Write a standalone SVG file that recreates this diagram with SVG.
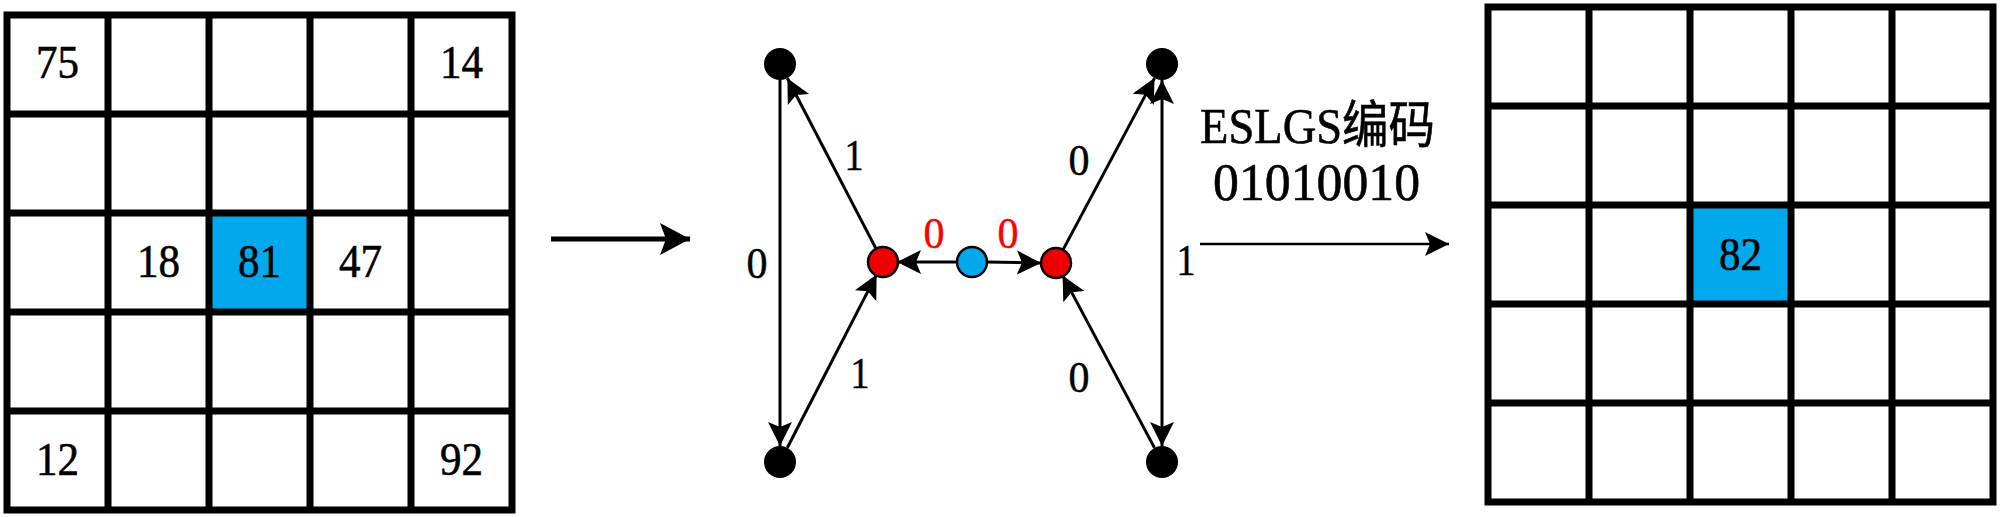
<svg xmlns="http://www.w3.org/2000/svg" width="2000" height="517" viewBox="0 0 2000 517">
  <style>
    .grid { fill: none; stroke: #000; stroke-width: 7; stroke-linecap: square; }
    .num { font-family: "Liberation Serif", "DejaVu Serif", serif; font-size: 47px; fill: #000; stroke: #000; stroke-width: 0.6; text-anchor: middle; }
    .lbl { font-family: "Liberation Serif", "DejaVu Serif", serif; font-size: 45px; fill: #000; stroke: #000; stroke-width: 0.5; text-anchor: middle; }
    .red { fill: #FF0000; stroke: #FF0000; }
    .edge { fill: none; stroke: #000; stroke-width: 3; }
    .cap { font-family: "Liberation Serif", "DejaVu Serif", "Noto Sans CJK SC", serif; fill: #000; stroke: #000; stroke-width: 0.6; text-anchor: middle; }
    .hl { fill: #00A8EC; }
  </style>
  <defs>
    <marker id="ah" viewBox="0 -13 25 26" refX="24" refY="0" markerWidth="25" markerHeight="26" markerUnits="userSpaceOnUse" orient="auto-start-reverse">
      <path d="M0,-12 L24,0 L0,12 L5,0 Z" fill="#000"/>
    </marker>
    <marker id="bigah" viewBox="0 -17 31 34" refX="30" refY="0" markerWidth="31" markerHeight="34" markerUnits="userSpaceOnUse" orient="auto">
      <path d="M0,-16 L30,0 L0,16 L6,0 Z" fill="#000"/>
    </marker>
  </defs>
  <rect width="2000" height="517" fill="#fff"/>

  <g id="input-grid">
    <rect class="hl" x="209" y="213" width="101" height="99"/>
    <path class="grid" d="M7,15 V510 M108,15 V510 M209,15 V510 M310,15 V510 M411,15 V510 M512,15 V510 M7,15 H512 M7,114 H512 M7,213 H512 M7,312 H512 M7,411 H512 M7,510 H512"/>
    <text class="num" x="57.5" y="78" textLength="43" lengthAdjust="spacingAndGlyphs">75</text>
    <text class="num" x="461.5" y="78" textLength="43" lengthAdjust="spacingAndGlyphs">14</text>
    <text class="num" x="158.5" y="277" textLength="43" lengthAdjust="spacingAndGlyphs">18</text>
    <text class="num" x="259.5" y="277" textLength="43" lengthAdjust="spacingAndGlyphs">81</text>
    <text class="num" x="360.5" y="277" textLength="43" lengthAdjust="spacingAndGlyphs">47</text>
    <text class="num" x="57.5" y="475" textLength="43" lengthAdjust="spacingAndGlyphs">12</text>
    <text class="num" x="461.5" y="475" textLength="43" lengthAdjust="spacingAndGlyphs">92</text>
  </g>

  <g id="output-grid">
    <rect class="hl" x="1690" y="205" width="101" height="99"/>
    <path class="grid" d="M1488,7 V502 M1589,7 V502 M1690,7 V502 M1791,7 V502 M1892,7 V502 M1993,7 V502 M1488,7 H1993 M1488,106 H1993 M1488,205 H1993 M1488,304 H1993 M1488,403 H1993 M1488,502 H1993"/>
    <text class="num" x="1740.5" y="270" textLength="43" lengthAdjust="spacingAndGlyphs">82</text>
  </g>

  <g id="connectors">
    <line x1="551" y1="239" x2="690" y2="239" stroke="#000" stroke-width="5" marker-end="url(#bigah)"/>
    <line class="edge" x1="780" y1="80" x2="780" y2="446" marker-end="url(#ah)"/>
    <line class="edge" x1="876.5" y1="249.6" x2="787.4" y2="78.2" marker-end="url(#ah)"/>
    <line class="edge" x1="787.3" y1="447.8" x2="876.6" y2="274.4" marker-end="url(#ah)"/>
    <line class="edge" x1="957" y1="262" x2="897" y2="262" marker-end="url(#ah)"/>
    <line class="edge" x1="987" y1="262" x2="1041" y2="263" marker-end="url(#ah)"/>
    <line class="edge" x1="1062.6" y1="250.6" x2="1154.5" y2="78.1" marker-end="url(#ah)"/>
    <line class="edge" x1="1154.5" y1="447.9" x2="1062.6" y2="275.4" marker-end="url(#ah)"/>
    <line class="edge" x1="1162" y1="80" x2="1162" y2="446" marker-start="url(#ah)" marker-end="url(#ah)"/>
    <line x1="1200" y1="244" x2="1449" y2="244" stroke="#000" stroke-width="2.5" marker-end="url(#ah)"/>
  </g>

  <g id="edge-labels">
    <text class="lbl" x="757" y="278" textLength="21" lengthAdjust="spacingAndGlyphs">0</text>
    <text class="lbl" x="854" y="170" textLength="19" lengthAdjust="spacingAndGlyphs">1</text>
    <text class="lbl" x="860" y="388" textLength="19" lengthAdjust="spacingAndGlyphs">1</text>
    <text class="lbl red" x="934" y="248" textLength="21" lengthAdjust="spacingAndGlyphs">0</text>
    <text class="lbl red" x="1008" y="248" textLength="21" lengthAdjust="spacingAndGlyphs">0</text>
    <text class="lbl" x="1079" y="175" textLength="21" lengthAdjust="spacingAndGlyphs">0</text>
    <text class="lbl" x="1079" y="392" textLength="21" lengthAdjust="spacingAndGlyphs">0</text>
    <text class="lbl" x="1186" y="275" textLength="19" lengthAdjust="spacingAndGlyphs">1</text>
  </g>

  <g id="node-tl"><circle cx="780" cy="64" r="16" fill="#000"/></g>
  <g id="node-bl"><circle cx="780" cy="462" r="16" fill="#000"/></g>
  <g id="node-tr"><circle cx="1162" cy="64" r="16" fill="#000"/></g>
  <g id="node-br"><circle cx="1162" cy="462" r="16" fill="#000"/></g>
  <g id="node-red-left"><circle cx="883" cy="262" r="15" fill="#EE0000" stroke="#000" stroke-width="2.5"/></g>
  <g id="node-blue"><circle cx="972" cy="262" r="15" fill="#00A8EC" stroke="#000" stroke-width="2.5"/></g>
  <g id="node-red-right"><circle cx="1056" cy="263" r="15" fill="#EE0000" stroke="#000" stroke-width="2.5"/></g>

  <g id="caption">
    <text class="cap" x="1317.5" y="143" font-size="51" textLength="235" lengthAdjust="spacingAndGlyphs">ESLGS编码</text>
    <text class="cap" x="1316.5" y="200" font-size="53" textLength="207" lengthAdjust="spacingAndGlyphs">01010010</text>
  </g>
</svg>
